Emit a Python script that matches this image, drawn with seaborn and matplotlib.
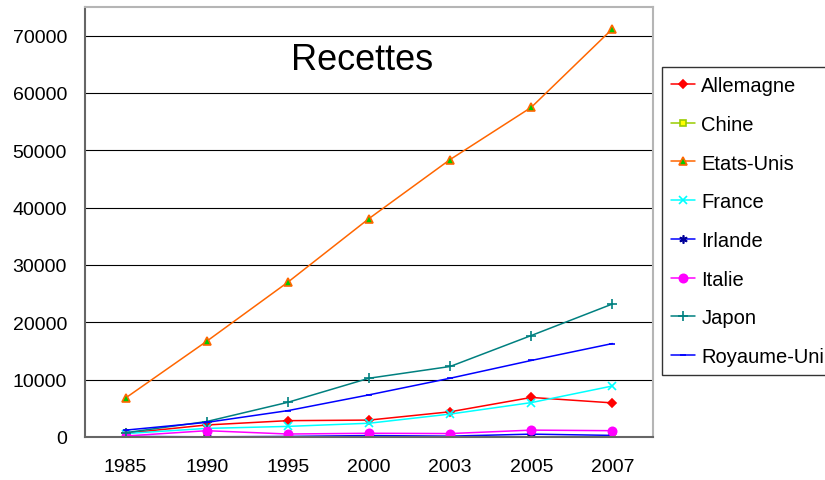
import matplotlib
matplotlib.use("Agg")
import matplotlib.pyplot as plt
import seaborn as sns

# ── Données (millions) ────────────────────────────────────────────────────────
annees = ["1985", "1990", "1995", "2000", "2003", "2005", "2007"]

allemagne = [650, 2100, 2850, 2950, 4400, 6900, 5950]
chine = [50, 50, 50, 50, 50, 50, 50]
etats_unis = [6800, 16700, 27000, 38100, 48400, 57500, 71200]
france = [600, 1500, 1850, 2400, 4000, 6000, 8900]
irlande = [100, 30, 100, 250, 150, 500, 280]
italie = [170, 1100, 520, 650, 600, 1200, 1100]
japon = [750, 2700, 6050, 10250, 12300, 17700, 23200]
royaume_uni = [1200, 2550, 4600, 7350, 10250, 13350, 16300]

y_ticks = [0, 10000, 20000, 30000, 40000, 50000, 60000, 70000]

# nom, valeurs, couleur ligne, marqueur, face, bord, taille
series = [
    ("Allemagne", allemagne, "#FF0000", "D", "#FF0000", "#FF0000", 4),
    ("Chine", chine, "#99CC00", "s", "#FFFF00", "#99CC00", 5),
    ("Etats-Unis", etats_unis, "#FF6600", "^", "#00CC00", "#FF6600", 6),
    ("France", france, "#00FFFF", "x", "#00FFFF", "#00FFFF", 6),
    ("Irlande", irlande, "#0000FF", (6, 2, 0), "#000099", "#000099", 6),
    ("Italie", italie, "#FF00FF", "o", "#FF00FF", "#FF00FF", 6),
    ("Japon", japon, "#008080", "+", "#008080", "#008080", 7),
    ("Royaume-Uni", royaume_uni, "#0000FF", "_", "#0000FF", "#0000FF", 5),
]

sns.set_style("white")
plt.rcParams["font.family"] = ["Liberation Sans", "DejaVu Sans"]
plt.rcParams["text.color"] = "black"
plt.rcParams["xtick.color"] = "black"
plt.rcParams["ytick.color"] = "black"

fig = plt.figure(figsize=(8.25, 4.81), dpi=100)
ax = fig.add_axes([85 / 825, 1 - 438 / 481, (653 - 85) / 825, (438 - 8) / 481])

for nom, vals, col, mk, face, bord, ms in series:
    sns.lineplot(
        x=annees, y=vals, ax=ax, label=nom, color=col, linewidth=1.1,
        marker=mk, markersize=ms, markerfacecolor=face,
        markeredgecolor=bord, markeredgewidth=1.2, sort=False,
    )

ax.set_xlim(-0.5, len(annees) - 0.5)
ax.set_ylim(0, 75000)
ax.set_yticks(y_ticks)
ax.set_yticklabels([str(v) for v in y_ticks], fontsize=14)

# Ticks de catégorie entre les années, libellés au centre
ax.set_xticks([i + 0.5 for i in range(-1, len(annees))])
ax.set_xticklabels([])
ax.set_xticks(range(len(annees)), minor=True)
ax.set_xticklabels(annees, minor=True, fontsize=14)
ax.tick_params(axis="x", which="major", direction="out", length=6,
               width=1, color="#555555")
ax.tick_params(axis="x", which="minor", length=0, pad=15)
ax.tick_params(axis="y", direction="out", length=6, width=1,
               color="#555555", pad=7)

ax.yaxis.grid(True, color="black", linewidth=0.8)
ax.xaxis.grid(False)
ax.set_axisbelow(True)
for side in ("left", "bottom"):
    ax.spines[side].set_color("#666666")
    ax.spines[side].set_linewidth(1.5)
for side in ("top", "right"):
    ax.spines[side].set_color("#B5B5B5")
    ax.spines[side].set_linewidth(1.5)
ax.set_xlabel("")
ax.set_ylabel("")

fig.text(362 / 825, 1 - 60 / 481, "Recettes", ha="center", va="center",
         fontsize=26, color="black")

handles, labels = ax.get_legend_handles_labels()
ax.get_legend().remove()
leg = fig.legend(
    handles, labels, loc="upper left", bbox_to_anchor=(662 / 825, 1 - 68 / 481),
    fontsize=14.5, frameon=True, fancybox=False, borderaxespad=0,
    labelspacing=0.98, handlelength=1.2, handletextpad=0.3, borderpad=0.45,
)
leg.get_frame().set_edgecolor("black")
leg.get_frame().set_linewidth(1.0)

fig.savefig("out.png", dpi=100)
